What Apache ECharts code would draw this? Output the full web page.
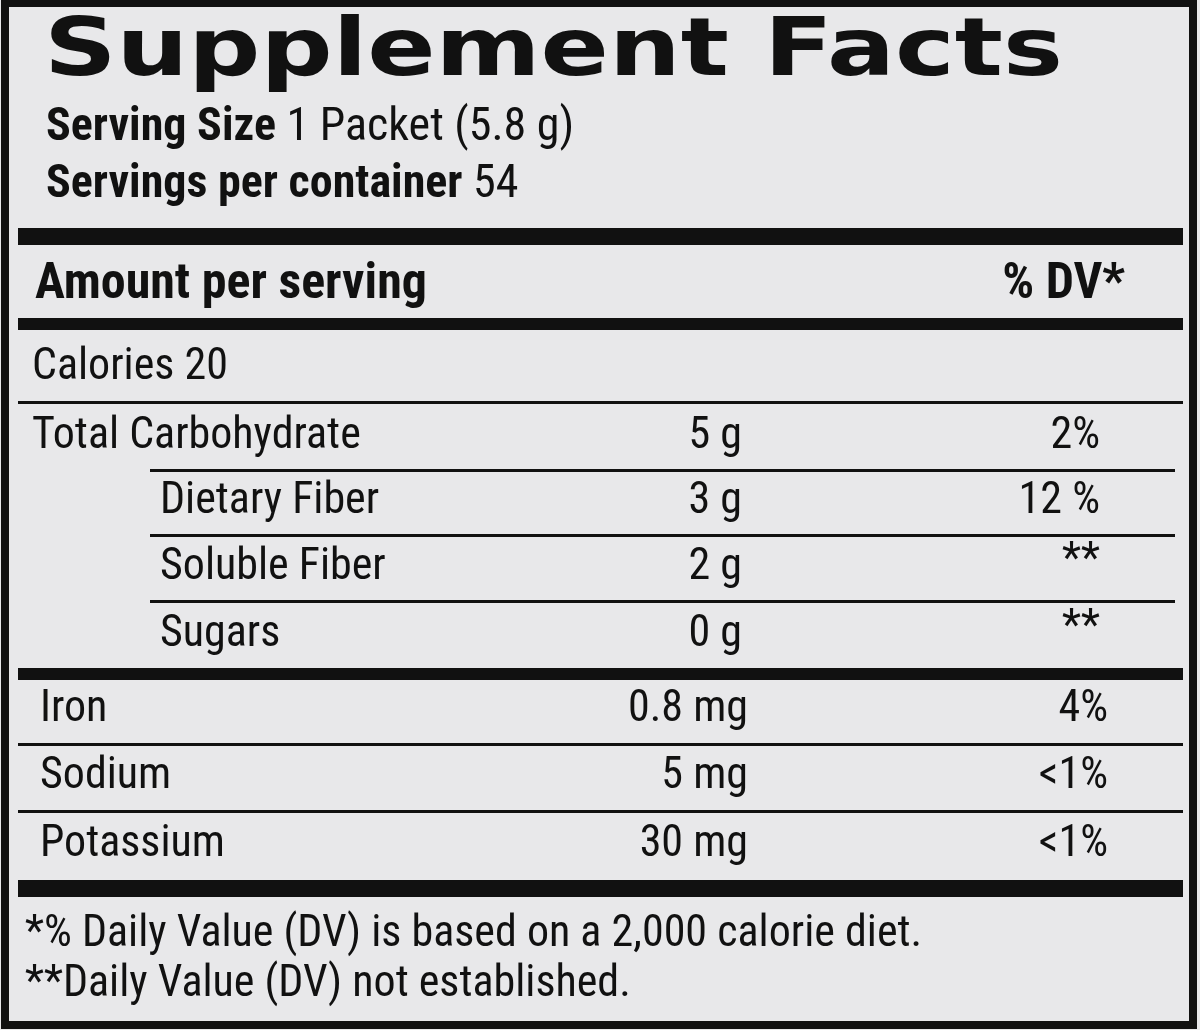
<!DOCTYPE html>
<html>
<head>
<meta charset="utf-8">
<script src="https://cdn.jsdelivr.net/npm/echarts@6/dist/echarts.min.js"></script>
<style>
  html, body { margin: 0; padding: 0; background: #e8e8ea; }
  #chart { width: 1200px; height: 1030px; }
</style>
</head>
<body>
<div id="chart"></div>
<script>
const servingSize = '1 Packet (5.8 g)';
const servingsPerContainer = '54';
const calories = 20;

const nutrients = ['Total Carbohydrate', 'Dietary Fiber', 'Soluble Fiber', 'Sugars'];
const nutrientAmounts = ['5 g', '3 g', '2 g', '0 g'];
const nutrientDV = ['2%', '12 %', '**', '**'];
const nutrientIndent = [false, true, true, true];

const minerals = ['Iron', 'Sodium', 'Potassium'];
const mineralAmounts = ['0.8 mg', '5 mg', '30 mg'];
const mineralDV = ['4%', '<1%', '<1%'];

const footnotes = [
    '*% Daily Value (DV) is based on a 2,000 calorie diet.',
    '**Daily Value (DV) not established.'
];

const narrow = "'Liberation Sans Narrow', 'Roboto Condensed', 'Liberation Sans', sans-serif";
const ink = '#111';
const rowFont = '44px ' + narrow;

function txt(x, y, s, opts, extra) {
    return Object.assign({
        type: 'text', x: x, y: y,
        style: Object.assign({
            text: s, fill: ink, font: rowFont,
            textVerticalAlign: 'middle', textAlign: 'left'
        }, opts || {})
    }, extra || {});
}
function bar(x1, x2, y, h) {
    return { type: 'rect', shape: { x: x1, y: y, width: x2 - x1, height: h }, style: { fill: ink } };
}

const g = [];
// frame
g.push({ type: 'rect', shape: { x: 5, y: 3, width: 1188, height: 1022 },
    style: { fill: 'none', stroke: ink, lineWidth: 8 } });

g.push(txt(44, 54, 'Supplement Facts', { font: '900 84px "DejaVu Sans", sans-serif' }, { scaleX: 1.2, scaleY: 0.95 }));
const rich = {
    b: { font: 'bold 46px ' + narrow, fill: ink },
    r: { font: '46px ' + narrow, fill: ink }
};
g.push(txt(46, 128, '{b|Serving Size} {r|' + servingSize + '}', { rich: rich, font: '46px ' + narrow }));
g.push(txt(46, 185, '{b|Servings per container} {r|' + servingsPerContainer + '}', { rich: rich, font: '46px ' + narrow }));

g.push(bar(18, 1183, 228, 17));
g.push(txt(35, 285, 'Amount per serving', { font: 'bold 50px ' + narrow }));
g.push(txt(1125, 285, '% DV*', { font: 'bold 50px ' + narrow, textAlign: 'right' }));
g.push(bar(18, 1183, 318, 12));

g.push(txt(32, 368, 'Calories ' + calories));
g.push(bar(18, 1183, 401, 3));

const rowY = [437, 502, 568, 635];
nutrients.forEach(function (n, i) {
    g.push(txt(nutrientIndent[i] ? 160 : 32, rowY[i], n));
    g.push(txt(742, rowY[i], nutrientAmounts[i], { textAlign: 'right' }));
    g.push(txt(1100, rowY[i] + (nutrientDV[i] === '**' ? -6 : 0), nutrientDV[i], { textAlign: 'right' }));
    if (i < nutrients.length - 1) g.push(bar(150, 1175, rowY[i] + 32, 3));
});
g.push(bar(18, 1183, 668, 12));

const mY = [710, 777, 845];
minerals.forEach(function (n, i) {
    g.push(txt(40, mY[i], n));
    g.push(txt(748, mY[i], mineralAmounts[i], { textAlign: 'right' }));
    g.push(txt(1108, mY[i], mineralDV[i], { textAlign: 'right' }));
    if (i < minerals.length - 1) g.push(bar(18, 1183, mY[i] + 33, 3));
});
g.push(bar(18, 1183, 880, 17));

footnotes.forEach(function (f, i) {
    g.push(txt(25, 935 + i * 50, f, { font: '44px ' + narrow }));
});

const chart = echarts.init(document.getElementById('chart'));
chart.setOption({ backgroundColor: '#e8e8ea', graphic: g });
</script>
</body>
</html>
